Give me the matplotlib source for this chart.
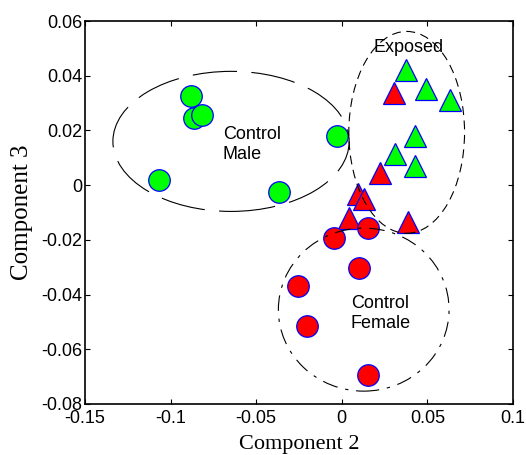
import matplotlib
matplotlib.use("Agg")
import matplotlib.pyplot as plt
from matplotlib.patches import Ellipse

# PCA scores (Component 2, Component 3)
MALE_X = [-0.088, -0.0863, -0.0816, -0.003, -0.1067, -0.0367]
MALE_Y = [0.0327, 0.0244, 0.0255, 0.0178, 0.0018, -0.0025]

EXP_G_X = [0.0373, 0.049, 0.063, 0.0426, 0.031, 0.0426]
EXP_G_Y = [0.0422, 0.035, 0.0313, 0.0178, 0.0113, 0.0069]

EXP_R_X = [0.0303, 0.0222, 0.0093, 0.0128, 0.004, 0.0385]
EXP_R_Y = [0.0338, 0.0044, -0.0033, -0.0051, -0.012, -0.0135]

FEMALE_X = [-0.0047, 0.0152, 0.0099, -0.0257, -0.0204, 0.0152]
FEMALE_Y = [-0.0193, -0.0156, -0.0302, -0.0367, -0.0516, -0.0695]

XTICKS = [-0.15, -0.1, -0.05, 0, 0.05, 0.1]
YTICKS = [-0.08, -0.06, -0.04, -0.02, 0, 0.02, 0.04, 0.06]

GREEN, RED, EDGE = "#00ff00", "#ff0000", "#0000ff"

plt.rcParams["font.family"] = ["Liberation Sans", "DejaVu Sans"]

fig = plt.figure(figsize=(5.26, 4.55), dpi=100)
ax = fig.add_axes([0.1616, 0.1121, 0.8137, 0.8417])

ax.plot(EXP_G_X, EXP_G_Y, "^", ms=16, mfc=GREEN, mec=EDGE, mew=0.9, ls="none")
ax.plot(EXP_R_X, EXP_R_Y, "^", ms=16, mfc=RED, mec=EDGE, mew=0.9, ls="none")
ax.plot(MALE_X, MALE_Y, "o", ms=15.5, mfc=GREEN, mec=EDGE, mew=0.9, ls="none")
ax.plot(FEMALE_X, FEMALE_Y, "o", ms=15.5, mfc=RED, mec=EDGE, mew=0.9, ls="none")

# group outlines
ax.add_patch(Ellipse((-0.0647, 0.016), 0.138, 0.0512, fill=False, ec="black",
                     lw=0.8, ls=(0, (40, 13)), zorder=3))
ax.add_patch(Ellipse((0.0379, 0.0193), 0.0676, 0.0738, fill=False, ec="black",
                     lw=0.8, ls=(0, (8, 5)), zorder=3))
ax.add_patch(Ellipse((0.0128, -0.0455), 0.0997, 0.0596, fill=False, ec="black",
                     lw=0.8, ls=(0, (14, 7, 3, 7)), zorder=3))

ax.text(-0.0695, 0.0149, "Control\nMale", fontsize=13, ha="left", va="center",
        linespacing=1.2)
ax.text(0.039, 0.0505, "Exposed", fontsize=13, ha="center", va="center")
ax.text(0.0053, -0.0469, "Control\nFemale", fontsize=13, ha="left", va="center",
        linespacing=1.2)

ax.set_xlim(-0.15, 0.1)
ax.set_ylim(-0.08, 0.06)
ax.set_xticks(XTICKS)
ax.set_xticklabels(["-0.15", "-0.1", "-0.05", "0", "0.05", "0.1"])
ax.set_yticks(YTICKS)
ax.set_yticklabels(["-0.08", "-0.06", "-0.04", "-0.02", "0", "0.02", "0.04", "0.06"])
ax.tick_params(direction="in", top=True, right=True, length=3.5, width=0.8,
               labelsize=13, pad=2)
ax.tick_params(axis="x", pad=4)
for s in ax.spines.values():
    s.set_linewidth(1.2)

ax.set_xlabel("Component 2", family="Liberation Serif", fontsize=16, labelpad=6)
ax.set_ylabel("Component 3", family="Liberation Serif", fontsize=18, labelpad=6)

fig.savefig("out.png", dpi=100)
